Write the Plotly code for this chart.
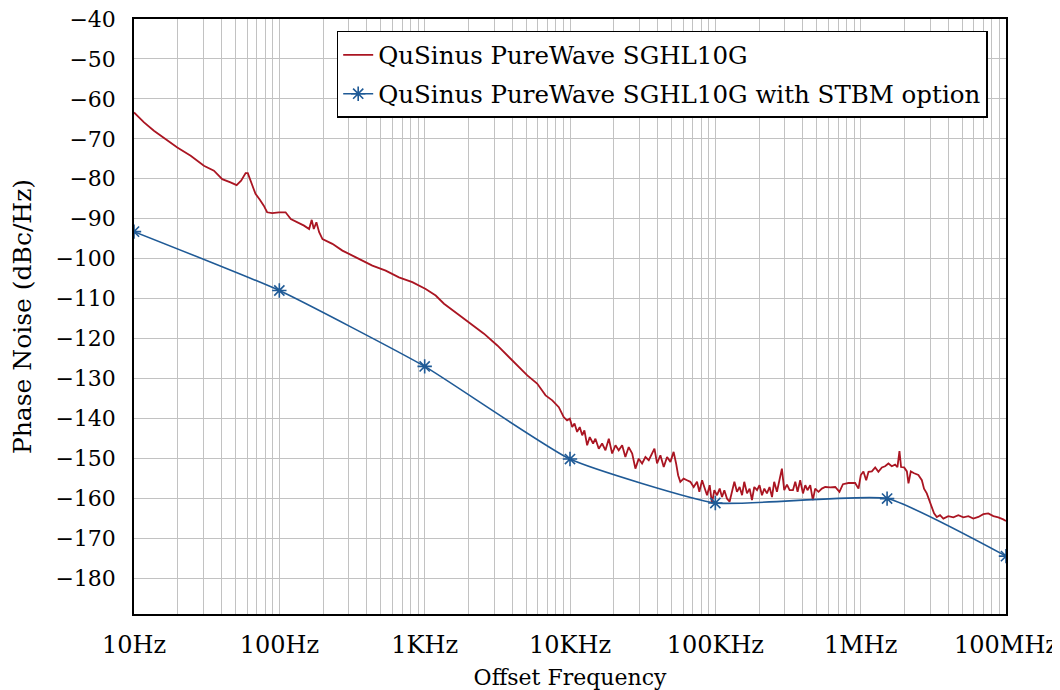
import plotly.graph_objects as go

# ---- data ----
# Red trace; frequency given as log10(Hz)
red_log_f = [
    1.000, 1.069, 1.137, 1.229, 1.298, 1.390, 1.481, 1.550, 1.607, 1.664,
    1.706, 1.737, 1.768, 1.783, 1.806, 1.836, 1.866, 1.893, 1.916, 1.951,
    1.997, 2.043, 2.079, 2.125, 2.170, 2.205, 2.223, 2.237, 2.255, 2.274,
    2.297, 2.365, 2.434, 2.503, 2.572, 2.640, 2.732, 2.823, 2.915, 3.007,
    3.076, 3.133, 3.225, 3.316, 3.408, 3.500, 3.568, 3.637, 3.706, 3.774,
    3.832, 3.878, 3.923, 3.957, 3.980, 3.999, 4.015, 4.031, 4.049, 4.067,
    4.084, 4.099, 4.118, 4.136, 4.159,
    4.175, 4.198, 4.221, 4.244, 4.267, 4.290, 4.313, 4.335, 4.359, 4.381,
    4.404, 4.428, 4.450, 4.473, 4.496, 4.519, 4.542, 4.565, 4.581, 4.599,
    4.622, 4.645, 4.668, 4.691, 4.713, 4.730, 4.744, 4.759, 4.782, 4.805,
    4.828, 4.851, 4.874, 4.890, 4.909, 4.924, 4.943, 4.961, 4.977, 4.993,
    5.012, 5.030, 5.046, 5.062, 5.080, 5.098, 5.115, 5.131, 5.149, 5.167,
    5.184, 5.199, 5.218, 5.236, 5.252, 5.268, 5.287, 5.304, 5.321, 5.337,
    5.355, 5.373, 5.390, 5.405, 5.424, 5.440, 5.458, 5.474, 5.493, 5.511,
    5.534, 5.550, 5.566, 5.584, 5.603, 5.619, 5.634, 5.653, 5.671, 5.687,
    5.710, 5.733, 5.756, 5.790, 5.825, 5.854, 5.878, 5.916, 5.962, 5.985,
    6.001, 6.019, 6.038, 6.054, 6.077, 6.100, 6.122, 6.146, 6.168, 6.191,
    6.214, 6.237, 6.253, 6.267, 6.278, 6.299, 6.318, 6.329, 6.345, 6.368,
    6.397, 6.421, 6.436, 6.455, 6.473, 6.489, 6.505, 6.524, 6.546, 6.569,
    6.603, 6.638, 6.672, 6.707, 6.741, 6.775, 6.810, 6.844, 6.878, 6.913,
    6.947, 6.981, 7.000,
]
red_db = [
    -63.4, -65.9, -68.0, -70.5, -72.2, -74.25, -76.75, -78.0, -80.1, -80.9,
    -81.6, -80.5, -78.6, -78.6, -80.9, -83.8, -85.25, -86.75, -88.4, -88.6,
    -88.4, -88.4, -90.1, -90.9, -91.75, -92.6, -90.3, -92.6, -90.9, -93.4,
    -95.1, -96.3, -98.0, -99.25, -100.5, -101.75, -103.0, -104.7, -105.9, -107.6,
    -109.25, -111.3, -113.8, -116.3, -118.8, -121.75, -124.25, -126.75, -129.25, -131.3,
    -134.25, -135.5, -137.2, -139.7, -140.5, -140.1, -142.2, -141.3, -143.4, -142.2,
    -144.25, -143.0, -146.75, -144.7, -146.3,
    -145.1, -147.6, -146.3, -148.0, -145.1, -148.8, -146.75, -148.0, -146.75, -149.7,
    -147.2, -148.8, -152.6, -150.1, -151.3, -149.7, -150.5, -148.8, -147.6, -151.3,
    -149.25, -152.2, -149.7, -150.9, -148.4, -151.3, -154.25, -155.9, -155.1, -155.5,
    -155.9, -157.2, -155.9, -158.4, -155.5, -157.2, -159.25, -156.75, -161.3, -158.0,
    -159.25, -157.6, -159.7, -158.0, -160.1, -160.9, -158.0, -155.9, -158.4, -157.2,
    -159.25, -155.9, -158.8, -157.6, -160.5, -157.2, -158.0, -156.75, -159.25, -157.6,
    -158.8, -157.2, -159.7, -155.9, -158.4, -155.5, -152.6, -158.0, -156.6, -158.0,
    -158.0, -155.9, -158.4, -155.5, -158.8, -156.75, -158.0, -156.75, -160.5, -157.6,
    -158.4, -157.6, -157.2, -157.3, -157.2, -158.4, -156.5, -156.2, -156.2, -157.6,
    -154.2, -153.3, -155.5, -153.4, -153.3, -152.3, -153.4, -152.3, -152.0, -151.3,
    -152.0, -151.6, -152.2, -148.2, -152.2, -152.3, -153.3, -156.3, -153.3, -153.75,
    -154.2, -155.5, -157.6, -158.8, -160.5, -162.2, -163.8, -164.7, -164.25, -165.1,
    -164.5, -164.8, -164.25, -164.8, -164.5, -165.1, -164.7, -164.0, -163.8, -164.5,
    -164.8, -165.3, -165.7,
]

# Blue trace (with STBM option)
blue_f = [10, 100, 1000, 1e4, 1e5, 1.52e6, 1e7]
blue_db = [-93.25, -108, -127, -150.2, -161.2, -160.1, -174.5]

red_name = "QuSinus PureWave SGHL10G"
blue_name = "QuSinus PureWave SGHL10G with STBM option"

# Axis ticks: decade labels as in the original picture
decade_vals = [10, 100, 1e3, 1e4, 1e5, 1e6, 1e7]
decade_text = ["10Hz", "100Hz", "1KHz", "10KHz", "100KHz", "1MHz", "100MHz"]
y_ticks = [-40, -50, -60, -70, -80, -90, -100, -110, -120, -130, -140, -150, -160, -170, -180]

RED = "#aa1522"
BLUE = "#1f5a96"
GRID = "#c2c2c2"
FONT = "DejaVu Serif"

# gridline positions: every 1..9 multiple of each decade
x_tickvals, x_ticktext = [], []
for d, lab in zip(decade_vals[:-1], decade_text[:-1]):
    for m in range(1, 10):
        x_tickvals.append(d * m)
        x_ticktext.append(lab if m == 1 else "")
x_tickvals.append(decade_vals[-1])
x_ticktext.append(decade_text[-1])

red_f = [10 ** v for v in red_log_f]

fig = go.Figure()
fig.add_trace(go.Scatter(
    x=red_f, y=red_db, mode="lines", name=red_name,
    line=dict(color=RED, width=1.8), legendgroup="a",
))
fig.add_trace(go.Scatter(
    x=blue_f, y=blue_db, mode="lines+markers", name=blue_name,
    line=dict(color=BLUE, width=1.6, shape="spline", smoothing=0.45),
    marker=dict(symbol="asterisk-open", size=12, color=BLUE,
                line=dict(width=1.6, color=BLUE)),
    legendgroup="b",
))

# page body has a small margin: plot area should land at x 133..1006, y 18..614
fig.update_layout(
    width=1060, height=690,
    margin=dict(l=126, r=62, t=11, b=84),
    paper_bgcolor="white", plot_bgcolor="white",
    font=dict(family=FONT, size=23, color="black"),
    legend=dict(
        x=0.979, y=0.98, xanchor="right", yanchor="top",
        bordercolor="black", borderwidth=1.5, bgcolor="white",
        font=dict(family=FONT, size=24.5), tracegroupgap=4,
    ),
    showlegend=True,
)
fig.update_xaxes(
    type="log", range=[1, 7], automargin=False,
    tickvals=x_tickvals, ticktext=x_ticktext,
    tickfont=dict(size=24), ticklabeloverflow="allow",
    showgrid=True, gridcolor=GRID, gridwidth=1,
    showline=True, linecolor="black", linewidth=1.5, mirror=True,
    ticks="", ticklabelstandoff=8, zeroline=False,
    title=dict(text="Offset Frequency", standoff=12, font=dict(size=22)),
)
fig.update_yaxes(
    range=[-189, -40], tickvals=y_ticks, automargin=False,
    tickfont=dict(size=22), ticklabeloverflow="allow",
    showgrid=True, gridcolor=GRID, gridwidth=1,
    showline=True, linecolor="black", linewidth=1.5, mirror=True,
    ticks="", ticklabelstandoff=12, zeroline=False,
    title=dict(text="Phase Noise (dBc/Hz)", standoff=30, font=dict(size=25)),
)

fig.write_html("out.html")
